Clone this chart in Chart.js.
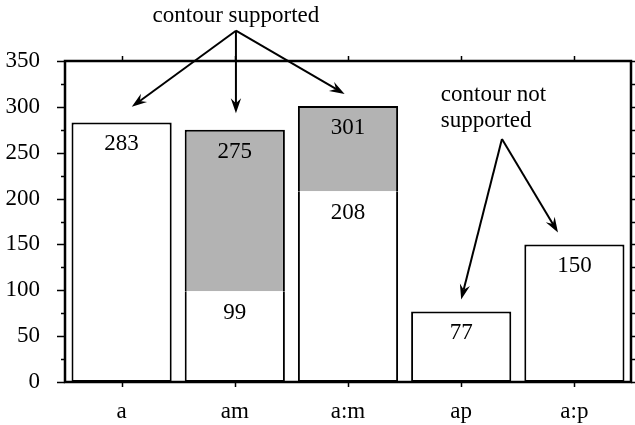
<!DOCTYPE html>
<html>
<head>
<meta charset="utf-8">
<script src="https://cdn.jsdelivr.net/npm/chart.js@4/dist/chart.umd.min.js"></script>
<style>
  html, body { margin: 0; padding: 0; background: #fff; }
  #wrap { width: 635px; height: 425px; }
</style>
</head>
<body>
<div id="wrap"><canvas id="chart" width="635" height="425"></canvas></div>
<script>
const categories = ['a', 'am', 'a:m', 'ap', 'a:p'];
// white part of each bar, and the full height including the grey part
const baseValues = [283, 99, 208, 77, 150];
const totalValues = [283, 275, 301, 77, 150];
const greyValues = totalValues.map((t, i) => t - baseValues[i]);
const yTicks = [0, 50, 100, 150, 200, 250, 300, 350];

// annotation anchors in data units: [category index, value]
const notes = [
  { lines: ['contour supported'], at: [1.01, 392], align: 'center' },
  { lines: ['contour not', 'supported'], at: [2.82, 306], align: 'left' }
];
const arrows = [
  { from: [1.01, 383], to: [0.09, 300] },
  { from: [1.01, 383], to: [1.01, 293] },
  { from: [1.01, 383], to: [1.97, 314] },
  { from: [3.36, 265], to: [3.0, 90] },
  { from: [3.36, 265], to: [3.855, 163] }
];

const FONT = '23px "Liberation Serif", "Times New Roman", serif';

const drawArrow = (ctx, x1, y1, x2, y2) => {
  const ang = Math.atan2(y2 - y1, x2 - x1);
  const len = 16, spread = 0.33, back = 10;
  ctx.beginPath();
  ctx.moveTo(x1, y1);
  ctx.lineTo(x2 - Math.cos(ang) * back, y2 - Math.sin(ang) * back);
  ctx.stroke();
  ctx.beginPath();
  ctx.moveTo(x2, y2);
  ctx.lineTo(x2 - len * Math.cos(ang - spread), y2 - len * Math.sin(ang - spread));
  ctx.lineTo(x2 - back * Math.cos(ang), y2 - back * Math.sin(ang));
  ctx.lineTo(x2 - len * Math.cos(ang + spread), y2 - len * Math.sin(ang + spread));
  ctx.closePath();
  ctx.fill();
};

const decorPlugin = {
  id: 'decor',
  afterDatasetsDraw(chart) {
    const { ctx, chartArea: area, scales: { x, y } } = chart;
    ctx.save();
    ctx.strokeStyle = '#000';
    ctx.fillStyle = '#000';

    // frame
    ctx.lineWidth = 2.5;
    ctx.strokeRect(area.left, area.top, area.right - area.left, area.bottom - area.top);

    // ticks (outward)
    ctx.lineWidth = 1.5;
    ctx.beginPath();
    for (let v = 0; v <= 350; v += 25) {
      const py = Math.round(y.getPixelForValue(v)) + 0.5;
      const major = v % 50 === 0;
      ctx.moveTo(area.left, py);
      ctx.lineTo(area.left - (major ? 8 : 4), py);
      ctx.moveTo(area.right, py);
      ctx.lineTo(area.right + 6, py);
    }
    categories.forEach((c, i) => {
      const px = Math.round(x.getPixelForValue(i)) + 0.5;
      ctx.moveTo(px, area.bottom);
      ctx.lineTo(px, area.bottom + 5);
      ctx.moveTo(px, area.top);
      ctx.lineTo(px, area.top - 5);
    });
    ctx.stroke();

    // value labels inside the bars
    ctx.font = FONT;
    ctx.textAlign = 'center';
    ctx.textBaseline = 'middle';
    chart.getDatasetMeta(0).data.forEach((bar, i) => {
      ctx.fillText(String(baseValues[i]), bar.x, bar.y + 22);
    });
    chart.getDatasetMeta(1).data.forEach((bar, i) => {
      if (greyValues[i] > 0) ctx.fillText(String(totalValues[i]), bar.x, bar.y + 22);
    });

    // annotations
    ctx.textBaseline = 'alphabetic';
    notes.forEach((n) => {
      ctx.textAlign = n.align;
      const px = x.getPixelForValue(n.at[0]);
      const py = y.getPixelForValue(n.at[1]);
      n.lines.forEach((line, k) => ctx.fillText(line, px, py + k * 26));
    });
    ctx.lineWidth = 2;
    arrows.forEach((a) => {
      drawArrow(ctx,
        x.getPixelForValue(a.from[0]), y.getPixelForValue(a.from[1]),
        x.getPixelForValue(a.to[0]), y.getPixelForValue(a.to[1]));
    });
    ctx.restore();
  }
};

new Chart(document.getElementById('chart'), {
  type: 'bar',
  data: {
    labels: categories,
    datasets: [
      {
        data: baseValues,
        backgroundColor: '#ffffff',
        borderColor: '#000000',
        borderWidth: (c) => greyValues[c.dataIndex] > 0
          ? { left: 2, right: 2, bottom: 2, top: 0 }
          : 2,
        borderSkipped: false,
        barPercentage: 0.885,
        categoryPercentage: 1
      },
      {
        data: greyValues,
        backgroundColor: '#b3b3b3',
        borderColor: '#000000',
        borderWidth: { left: 2, right: 2, top: 2, bottom: 0 },
        borderSkipped: false,
        barPercentage: 0.885,
        categoryPercentage: 1
      }
    ]
  },
  options: {
    responsive: false,
    animation: false,
    events: [],
    layout: { padding: { top: 61, right: 4, left: 0, bottom: 0 } },
    plugins: { legend: { display: false }, tooltip: { enabled: false } },
    scales: {
      x: {
        stacked: true,
        grid: { display: false, drawTicks: false },
        border: { display: false },
        ticks: { color: '#000', font: { family: '"Liberation Serif", serif', size: 23 }, padding: 16 },
        afterFit: (s) => { s.height = 43; }
      },
      y: {
        stacked: true,
        min: 0,
        max: 350,
        afterBuildTicks: (s) => { s.ticks = yTicks.map((v) => ({ value: v })); },
        grid: { display: false, drawTicks: false },
        border: { display: false },
        ticks: { color: '#000', font: { family: '"Liberation Serif", serif', size: 23 }, padding: 25 },
        afterFit: (s) => { s.width = 65; }
      }
    }
  },
  plugins: [decorPlugin]
});
</script>
</body>
</html>
